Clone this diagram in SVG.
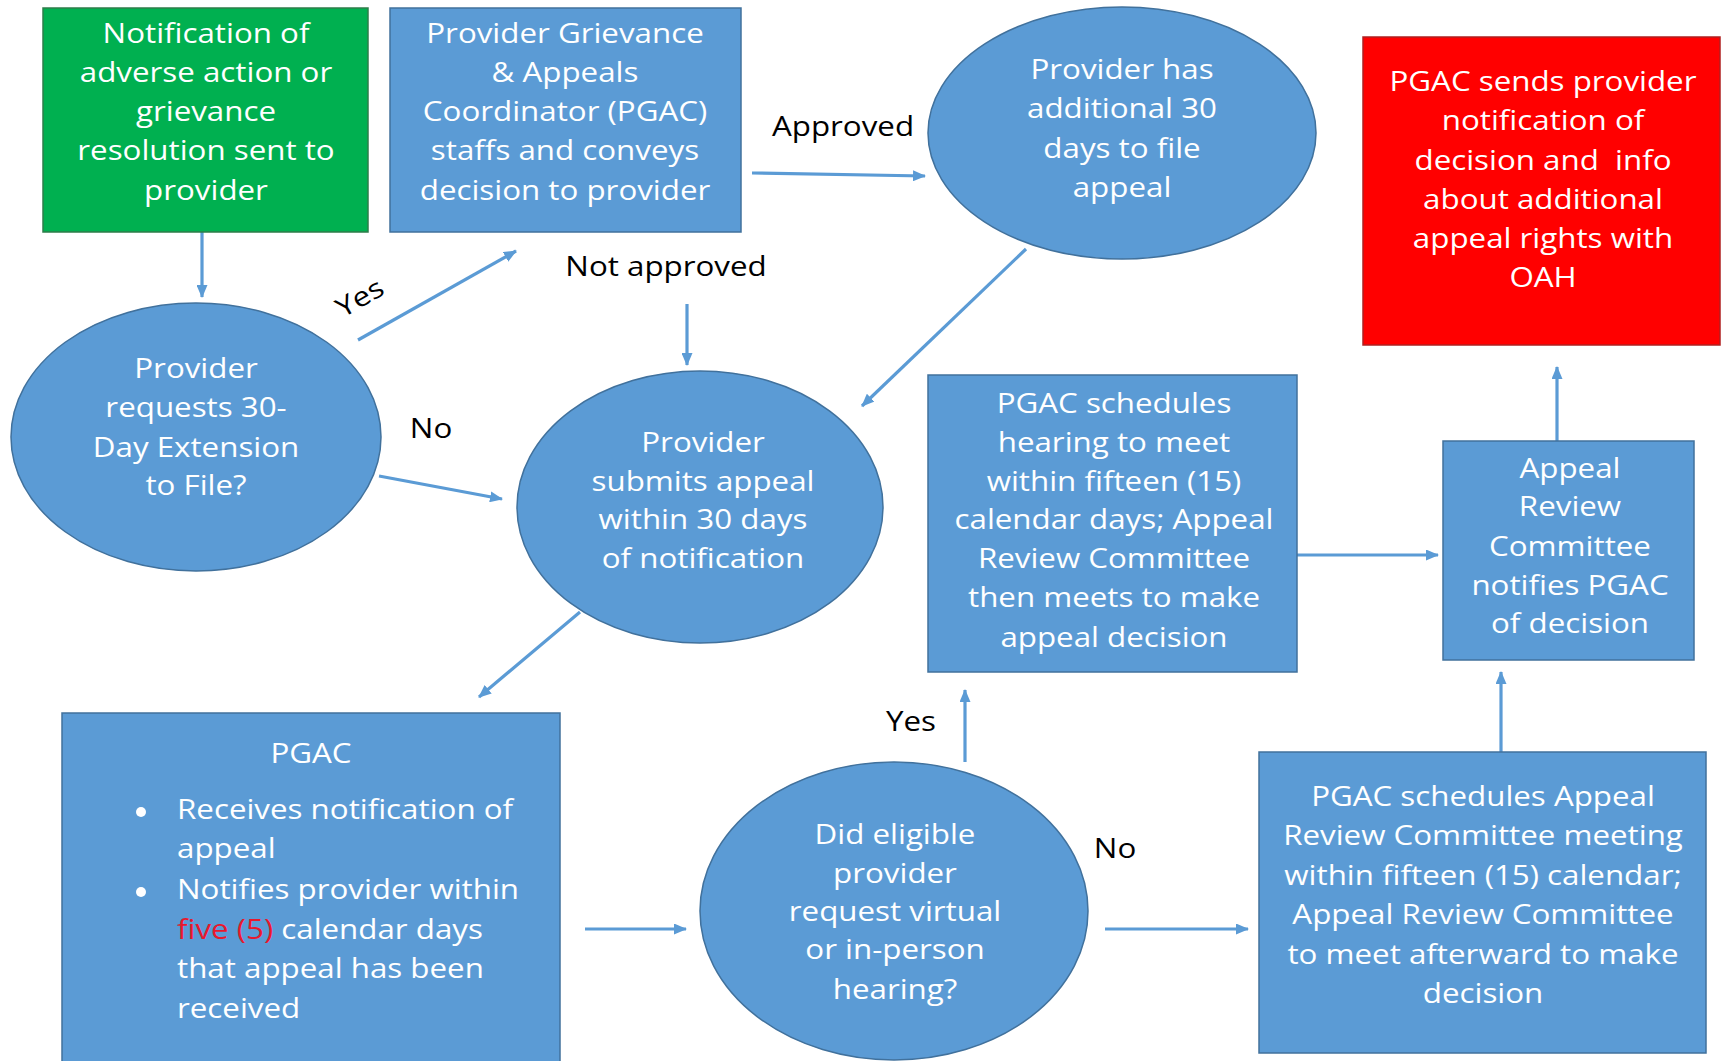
<svg xmlns="http://www.w3.org/2000/svg" width="1721" height="1061" viewBox="0 0 1721 1061">
<style>
.blue{fill:#5B9BD5;stroke:#41719C;stroke-width:1.5}
.green{fill:#00B050;stroke:#2E7D4A;stroke-width:1.5}
.red{fill:#FF0000;stroke:#B02020;stroke-width:1.5}
.t{font-family:"Open Sans","Lato","DejaVu Sans",sans-serif;font-size:27px;fill:#FFFFFF;text-anchor:middle}
.tl{font-family:"Open Sans","Lato","DejaVu Sans",sans-serif;font-size:27px;fill:#FFFFFF;text-anchor:start}
.lbl{font-family:"Open Sans","Lato","DejaVu Sans",sans-serif;font-size:27px;fill:#000000;text-anchor:middle}
.hl{fill:#E8182D}
.arr{stroke:#5B9BD5;stroke-width:3.2;fill:none;marker-end:url(#ah)}
</style>
<defs>
<marker id="ah" viewBox="0 0 13 11" refX="12" refY="5.5" markerWidth="13" markerHeight="11" markerUnits="userSpaceOnUse" orient="auto">
<path d="M0,0 L13,5.5 L0,11 Z" fill="#5B9BD5"/>
</marker>
</defs>
<rect width="1721" height="1061" fill="#FFFFFF"/>

<g id="connectors">
<line class="arr" x1="202" y1="232" x2="202" y2="297"/>
<line class="arr" x1="358" y1="340" x2="516" y2="251"/>
<line class="arr" x1="379" y1="476" x2="502" y2="499"/>
<line class="arr" x1="687" y1="304" x2="687" y2="365"/>
<line class="arr" x1="752" y1="173" x2="925" y2="176"/>
<line class="arr" x1="1026" y1="249" x2="862" y2="406"/>
<line class="arr" x1="580" y1="612" x2="479" y2="697"/>
<line class="arr" x1="585" y1="929" x2="686" y2="929"/>
<line class="arr" x1="965" y1="762" x2="965" y2="690"/>
<line class="arr" x1="1105" y1="929" x2="1248" y2="929"/>
<line class="arr" x1="1501" y1="752" x2="1501" y2="672"/>
<line class="arr" x1="1297" y1="555" x2="1438" y2="555"/>
<line class="arr" x1="1557" y1="441" x2="1557" y2="367"/>
<g transform="translate(843,0) scale(1.16,1)"><text class="lbl" x="0" y="136">Approved</text></g>
<g transform="translate(666,0) scale(1.16,1)"><text class="lbl" x="0" y="276">Not approved</text></g>
<g transform="translate(431,0) scale(1.16,1)"><text class="lbl" x="0" y="438">No</text></g>
<g transform="translate(360,298) rotate(-30) scale(1.16,1)"><text class="lbl" x="0" y="9">Yes</text></g>
<g transform="translate(911,0) scale(1.16,1)"><text class="lbl" x="0" y="731">Yes</text></g>
<g transform="translate(1115,0) scale(1.16,1)"><text class="lbl" x="0" y="858">No</text></g>
</g>

<g id="n-notification">
<rect class="green" x="43" y="8" width="325" height="224"/>
<g transform="translate(206,0) scale(1.16,1)"><text class="t" x="0"><tspan x="0" y="43">Notification of</tspan><tspan x="0" y="82">adverse action or</tspan><tspan x="0" y="121">grievance</tspan><tspan x="0" y="160">resolution sent to</tspan><tspan x="0" y="200">provider</tspan></text></g>
</g>

<g id="n-pgac-coordinator">
<rect class="blue" x="390" y="8" width="351" height="224"/>
<g transform="translate(565,0) scale(1.16,1)"><text class="t" x="0"><tspan x="0" y="43">Provider Grievance</tspan><tspan x="0" y="82">&amp; Appeals</tspan><tspan x="0" y="121">Coordinator (PGAC)</tspan><tspan x="0" y="160">staffs and conveys</tspan><tspan x="0" y="200">decision to provider</tspan></text></g>
</g>

<g id="n-additional-30">
<ellipse class="blue" cx="1122" cy="133" rx="194" ry="126"/>
<g transform="translate(1122,0) scale(1.16,1)"><text class="t" x="0"><tspan x="0" y="79">Provider has</tspan><tspan x="0" y="118">additional 30</tspan><tspan x="0" y="158">days to file</tspan><tspan x="0" y="197">appeal</tspan></text></g>
</g>

<g id="n-oah">
<rect class="red" x="1363" y="37" width="357" height="308"/>
<g transform="translate(1543,0) scale(1.16,1)"><text class="t" x="0" xml:space="preserve"><tspan x="0" y="91">PGAC sends provider</tspan><tspan x="0" y="130">notification of</tspan><tspan x="0" y="170">decision and  info</tspan><tspan x="0" y="209">about additional</tspan><tspan x="0" y="248">appeal rights with</tspan><tspan x="0" y="287">OAH</tspan></text></g>
</g>

<g id="n-extension">
<ellipse class="blue" cx="196" cy="437" rx="185" ry="134"/>
<g transform="translate(196,0) scale(1.16,1)"><text class="t" x="0"><tspan x="0" y="378">Provider</tspan><tspan x="0" y="417">requests 30-</tspan><tspan x="0" y="457">Day Extension</tspan><tspan x="0" y="495">to File?</tspan></text></g>
</g>

<g id="n-submits">
<ellipse class="blue" cx="700" cy="507" rx="183" ry="136"/>
<g transform="translate(703,0) scale(1.16,1)"><text class="t" x="0"><tspan x="0" y="452">Provider</tspan><tspan x="0" y="491">submits appeal</tspan><tspan x="0" y="529">within 30 days</tspan><tspan x="0" y="568">of notification</tspan></text></g>
</g>

<g id="n-hearing">
<rect class="blue" x="928" y="375" width="369" height="297"/>
<g transform="translate(1114,0) scale(1.16,1)"><text class="t" x="0"><tspan x="0" y="413">PGAC schedules</tspan><tspan x="0" y="452">hearing to meet</tspan><tspan x="0" y="491">within fifteen (15)</tspan><tspan x="0" y="529">calendar days; Appeal</tspan><tspan x="0" y="568">Review Committee</tspan><tspan x="0" y="607">then meets to make</tspan><tspan x="0" y="647">appeal decision</tspan></text></g>
</g>

<g id="n-arc-notifies">
<rect class="blue" x="1443" y="441" width="251" height="219"/>
<g transform="translate(1570,0) scale(1.16,1)"><text class="t" x="0"><tspan x="0" y="478">Appeal</tspan><tspan x="0" y="516">Review</tspan><tspan x="0" y="556">Committee</tspan><tspan x="0" y="595">notifies PGAC</tspan><tspan x="0" y="633">of decision</tspan></text></g>
</g>

<g id="n-pgac-receives">
<rect class="blue" x="62" y="713" width="498" height="360"/>
<g transform="translate(311,0) scale(1.16,1)"><text class="t" x="0" y="763">PGAC</text></g>
<circle cx="141" cy="812" r="5" fill="#FFFFFF"/>
<circle cx="141" cy="892" r="5" fill="#FFFFFF"/>
<g transform="translate(177,0) scale(1.16,1)"><text class="tl" x="0"><tspan x="0" y="819">Receives notification of</tspan><tspan x="0" y="858">appeal</tspan><tspan x="0" y="899">Notifies provider within</tspan><tspan x="0" y="939"><tspan class="hl">five (5)</tspan> calendar days</tspan><tspan x="0" y="978">that appeal has been</tspan><tspan x="0" y="1018">received</tspan></text></g>
</g>

<g id="n-eligible">
<ellipse class="blue" cx="894" cy="911" rx="194" ry="149"/>
<g transform="translate(895,0) scale(1.16,1)"><text class="t" x="0"><tspan x="0" y="844">Did eligible</tspan><tspan x="0" y="883">provider</tspan><tspan x="0" y="921">request virtual</tspan><tspan x="0" y="959">or in-person</tspan><tspan x="0" y="999">hearing?</tspan></text></g>
</g>

<g id="n-schedules-arc">
<rect class="blue" x="1259" y="752" width="447" height="301"/>
<g transform="translate(1483,0) scale(1.16,1)"><text class="t" x="0"><tspan x="0" y="806">PGAC schedules Appeal</tspan><tspan x="0" y="845">Review Committee meeting</tspan><tspan x="0" y="885">within fifteen (15) calendar;</tspan><tspan x="0" y="924">Appeal Review Committee</tspan><tspan x="0" y="964">to meet afterward to make</tspan><tspan x="0" y="1003">decision</tspan></text></g>
</g>
</svg>
